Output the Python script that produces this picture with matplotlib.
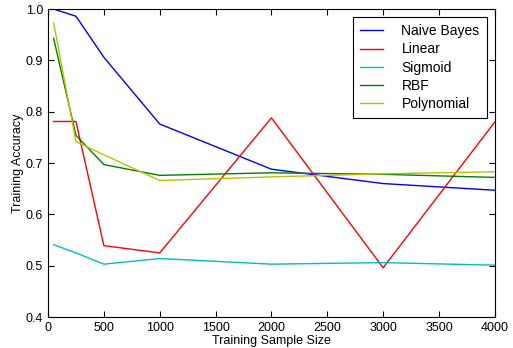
import matplotlib
matplotlib.use("Agg")
import matplotlib.pyplot as plt

sizes = [50, 250, 500, 1000, 2000, 3000, 4000]
naive_bayes = [1.0, 0.986, 0.906, 0.776, 0.688, 0.660, 0.647]
linear = [0.781, 0.781, 0.539, 0.525, 0.788, 0.496, 0.780]
sigmoid = [0.541, 0.525, 0.503, 0.514, 0.503, 0.506, 0.501]
rbf = [0.943, 0.754, 0.697, 0.676, 0.681, 0.678, 0.672]
polynomial = [0.973, 0.742, 0.716, 0.666, 0.673, 0.679, 0.683]

plt.rcParams['font.family'] = ['Liberation Sans', 'DejaVu Sans']
fig = plt.figure(figsize=(5.13, 3.48), dpi=100)
ax = fig.add_axes([0.0936, 0.089, 0.871, 0.885])

ax.plot(sizes, naive_bayes, color='#0000ff', lw=1, label='Naive Bayes')
ax.plot(sizes, linear, color='#ff0000', lw=1, label='Linear')
ax.plot(sizes, sigmoid, color='#00bfbf', lw=1, label='Sigmoid')
ax.plot(sizes, rbf, color='#008000', lw=1, label='RBF')
ax.plot(sizes, polynomial, color='#bfbf00', lw=1, label='Polynomial')

ax.set_xlim(0, 4000)
ax.set_ylim(0.4, 1.0)
ax.set_xticks(range(0, 4001, 500))
ax.set_yticks([0.4, 0.5, 0.6, 0.7, 0.8, 0.9, 1.0])
ax.tick_params(direction='in', top=True, right=True, labelsize=9, length=4)
ax.set_xlabel('Training Sample Size', fontsize=9, labelpad=1)
ax.set_ylabel('Training Accuracy', fontsize=9, labelpad=1)
leg = ax.legend(loc='upper right', fontsize=10, fancybox=False, framealpha=1,
                edgecolor='black', handlelength=1.7, handletextpad=1.3,
                labelspacing=0.3, borderpad=0.5, borderaxespad=0.6)
leg.get_frame().set_linewidth(0.8)

fig.savefig('out.png', dpi=100)
